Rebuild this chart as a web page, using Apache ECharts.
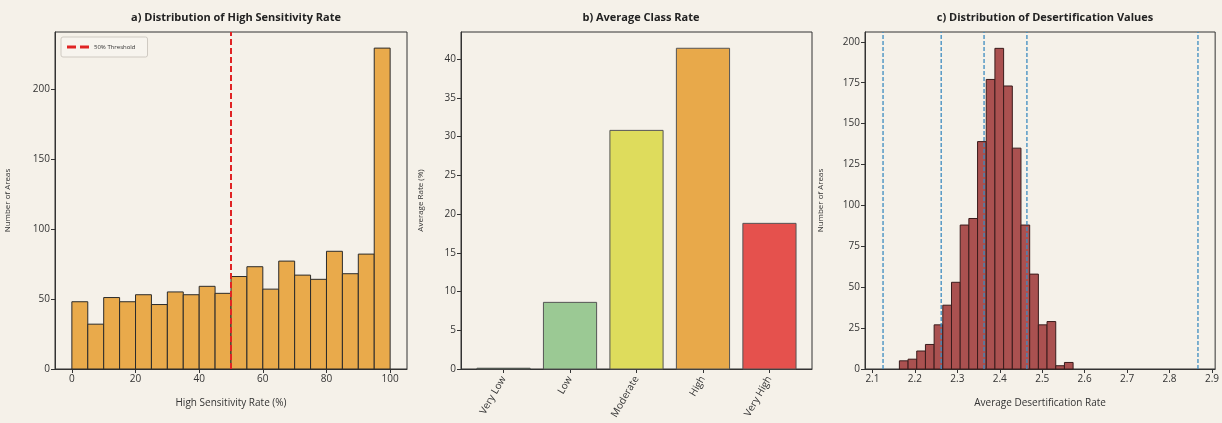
<!DOCTYPE html>
<html>
<head>
<meta charset="utf-8">
<script src="https://cdn.jsdelivr.net/npm/echarts@6/dist/echarts.min.js"></script>
<style>
html,body{margin:0;padding:0;background:#f5f1e9;}
#chart{width:1222px;height:423px;}
</style>
</head>
<body>
<div id="chart"></div>
<script>
// Panel a: histogram of High Sensitivity Rate (bins of 5%)
const sensBinEdges = [0,5,10,15,20,25,30,35,40,45,50,55,60,65,70,75,80,85,90,95,100];
const sensCounts = [48,32,51,48,53,46,55,53,59,54,66,73,57,77,67,64,84,68,82,229];
const sensTicks = [0,20,40,60,80,100];
const thresholdValue = 50;

// Panel b: average class rate
const classNames = ['Very Low','Low','Moderate','High','Very High'];
const classRates = [0.1,8.6,30.8,41.4,18.8];
const classColors = ['#2e7d32','#9bc994','#dedc5c','#e8a94a','#e5514d'];

// Panel c: histogram of desertification values
const desBinEdges = [2.1635,2.1840,2.2044,2.2249,2.2454,2.2658,2.2863,2.3068,2.3272,2.3477,2.3682,2.3886,2.4091,2.4296,2.4500,2.4705,2.4910,2.5114,2.5319,2.5524,2.5728];
const desCounts = [5,6,11,15,27,39,53,88,92,139,177,196,173,135,88,58,27,29,2,4];
const desBreaks = [2.125,2.262,2.363,2.464,2.867];
const desTicks = [2.1,2.2,2.3,2.4,2.5,2.6,2.7,2.8,2.9];

const FONT = '"Open Sans", "Noto Sans", sans-serif';
const TXT = '#333';

function histData(edges, counts){
  return counts.map((c,i)=>[edges[i], edges[i+1], c]);
}
function rectItem(fill, stroke, lw){
  return function(params, api){
    const p0 = api.coord([api.value(0), api.value(2)]);
    const p1 = api.coord([api.value(1), 0]);
    return {
      type:'rect',
      shape:{x:p0[0], y:p0[1], width:p1[0]-p0[0], height:p1[1]-p0[1]},
      style:{fill: typeof fill === 'function' ? fill(params.dataIndex) : fill, stroke:stroke, lineWidth:lw}
    };
  };
}

const grids = [
  {left:55, top:32, width:352, height:337},
  {left:461, top:32, width:351, height:337},
  {left:865, top:32, width:351, height:337}
];
grids.forEach(g=>{g.show=true; g.borderColor='#333'; g.borderWidth=1; g.backgroundColor='transparent';});

function xAxis(gi, min, max, ticks, name, fmt, rotate){
  return {
    type:'value', gridIndex:gi, min:min, max:max,
    name:name, nameLocation:'middle', nameGap:29,
    nameTextStyle:{fontFamily:FONT, fontSize:10, color:TXT},
    axisLine:{show:true, onZero:false, lineStyle:{color:'#333'}},
    axisTick:{show:true, customValues:ticks, length:4, lineStyle:{color:'#333'}},
    axisLabel:{show:true, customValues:ticks, fontFamily:FONT, fontSize:10, color:TXT, margin:rotate?8:5,
      formatter:fmt, rotate:rotate||0},
    splitLine:{show:false}
  };
}
function yAxis(gi, max, interval, name, gap){
  return {
    type:'value', gridIndex:gi, min:0, max:max, interval:interval,
    name:name, nameLocation:'middle', nameGap:gap,
    nameTextStyle:{fontFamily:FONT, fontSize:8, color:TXT},
    axisLine:{show:true, onZero:false, lineStyle:{color:'#333'}},
    axisTick:{show:true, length:4, lineStyle:{color:'#333'}},
    axisLabel:{fontFamily:FONT, fontSize:10, color:TXT, margin:5,
      showMaxLabel:false},
    splitLine:{show:false}
  };
}

const option = {
  backgroundColor:'#f5f1e9',
  animation:false,
  title:[
    {text:'a) Distribution of High Sensitivity Rate', left:231, top:7, textAlign:'center',
      textStyle:{fontFamily:FONT, fontSize:11, fontWeight:'bold', color:'#222'}},
    {text:'b) Average Class Rate', left:636, top:7, textAlign:'center',
      textStyle:{fontFamily:FONT, fontSize:11, fontWeight:'bold', color:'#222'}},
    {text:'c) Distribution of Desertification Values', left:1040, top:7, textAlign:'center',
      textStyle:{fontFamily:FONT, fontSize:11, fontWeight:'bold', color:'#222'}}
  ],
  legend:{
    data:[{name:'50% Threshold', icon:'path://M0,0h9v3h-9z M13,0h9v3h-9z'}], left:61, top:37,
    orient:'vertical', itemWidth:22, itemHeight:3, itemGap:4, padding:[7,12,7,6],
    borderColor:'#cfcac2', borderWidth:1, borderRadius:2, backgroundColor:'#f7f4ee',
    itemStyle:{color:'#e02424'},
    textStyle:{fontFamily:FONT, fontSize:6, color:TXT}
  },
  grid:grids,
  xAxis:[
    xAxis(0, -5.3, 105.3, sensTicks, 'High Sensitivity Rate (%)', v=>String(v)),
    xAxis(1, -0.64, 4.64, [0,1,2,3,4], '', v=>classNames[Math.round(v)], 60),
    xAxis(2, 2.0825, 2.9075, desTicks, 'Average Desertification Rate', v=>v.toFixed(1))
  ],
  yAxis:[
    yAxis(0, 240.5, 50, 'Number of Areas', 43),
    yAxis(1, 43.5, 5, 'Average Rate (%)', 36),
    yAxis(2, 206, 25, 'Number of Areas', 40)
  ],
  series:[
    {type:'custom', xAxisIndex:0, yAxisIndex:0, data:histData(sensBinEdges, sensCounts),
      renderItem:rectItem('#e9aa4b','#2b2b2b',1), encode:{x:[0,1], y:2}, silent:true},
    {type:'line', name:'50% Threshold', xAxisIndex:0, yAxisIndex:0,
      data:[[thresholdValue,0],[thresholdValue,240.5]], symbol:'none', color:'#e02424',
      lineStyle:{color:'#e02424', width:2, type:[6,3]}, z:5, silent:true},
    {type:'custom', xAxisIndex:1, yAxisIndex:1,
      data:classRates.map((v,i)=>[i-0.4, i+0.4, v]),
      renderItem:rectItem(i=>classColors[i],'#555',1), encode:{x:[0,1], y:2}, silent:true},
    {type:'custom', xAxisIndex:2, yAxisIndex:2, data:histData(desBinEdges, desCounts),
      renderItem:rectItem('#aa5150','#3a1c1c',1), encode:{x:[0,1], y:2}, silent:true}
  ].concat(desBreaks.map(b=>({
      type:'line', xAxisIndex:2, yAxisIndex:2, data:[[b,0],[b,206]], symbol:'none',
      lineStyle:{color:'#3b8bc0', width:1.3, type:[4,2]}, z:5, silent:true
  })))
};

const chart = echarts.init(document.getElementById('chart'), null, {renderer:'canvas'});
chart.setOption(option);
</script>
</body>
</html>
